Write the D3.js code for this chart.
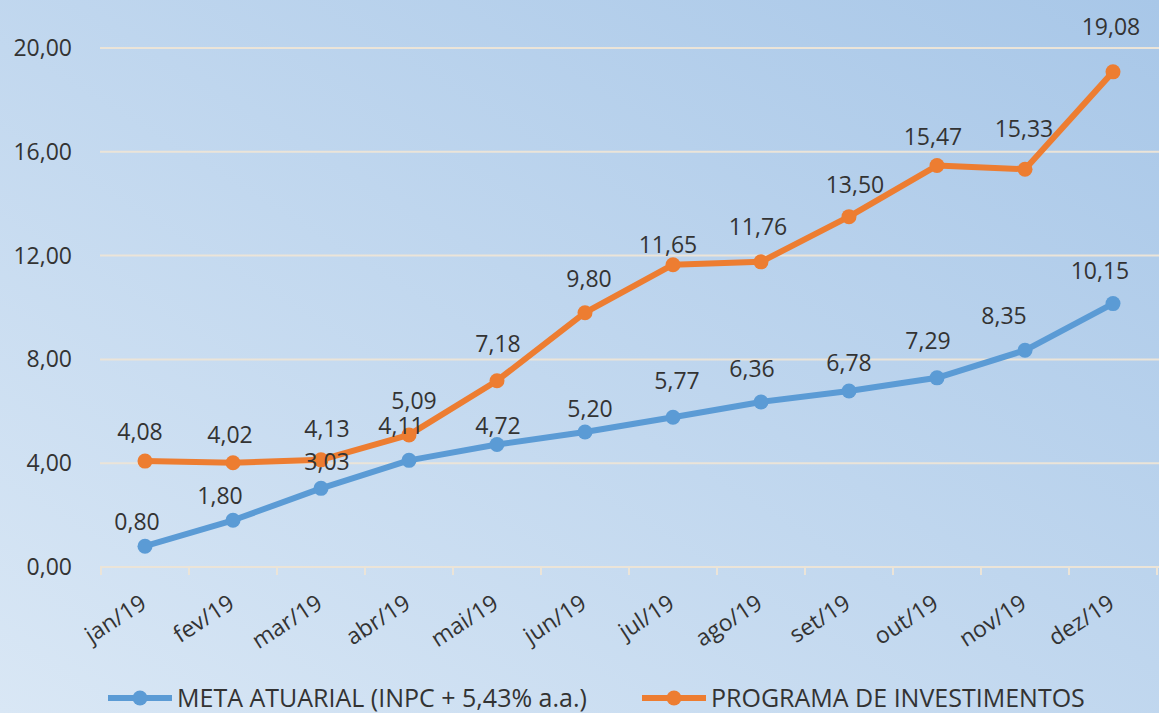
<!DOCTYPE html>
<html>
<head>
<meta charset="utf-8">
<script src="https://cdn.jsdelivr.net/npm/d3@7"></script>
<style>
  body { margin: 0; overflow: hidden; }
  text { font-family: "Open Sans", sans-serif; fill: #333333; }
</style>
</head>
<body>
<div id="chart"></div>
<script>
// data
var months = ["jan/19", "fev/19", "mar/19", "abr/19", "mai/19", "jun/19",
              "jul/19", "ago/19", "set/19", "out/19", "nov/19", "dez/19"];
var meta = [0.80, 1.80, 3.03, 4.11, 4.72, 5.20, 5.77, 6.36, 6.78, 7.29, 8.35, 10.15];
var programa = [4.08, 4.02, 4.13, 5.09, 7.18, 9.80, 11.65, 11.76, 13.50, 15.47, 15.33, 19.08];
var yTicks = [0, 4, 8, 12, 16, 20];
var seriesNames = ["META ATUARIAL (INPC + 5,43% a.a.)", "PROGRAMA DE INVESTIMENTOS"];

var width = 1159, height = 713;
var blue = "#5b9bd5", orange = "#ed7d31";
var fmt = function(v) { return d3.format(".2f")(v).replace(".", ","); };

// label nudges (dx, distance above the point), as placed in the original
var metaNudge = [[-8, 25], [-13, 25], [6, 27], [-8, 35], [1, 19], [5, 23],
                 [4, 37], [-9, 33], [0, 28], [-9, 37], [-21, 35], [-13, 33]];
var progNudge = [[-5, 29], [-3, 28], [6, 31], [5, 34], [1, 37], [4, 34],
                 [-5, 20], [-3, 35], [6, 32], [-4, 29], [-1, 40], [-2, 45]];

var svg = d3.select("#chart")
  .append("svg")
    .attr("width", width)
    .attr("height", height);

// background gradient
var grad = svg.append("defs").append("linearGradient")
    .attr("id", "bg")
    .attr("x1", "0%").attr("y1", "100%")
    .attr("x2", "100%").attr("y2", "0%");
grad.append("stop").attr("offset", "0%").attr("stop-color", "#d9e7f5");
grad.append("stop").attr("offset", "100%").attr("stop-color", "#a8c7e8");
svg.append("rect")
  .attr("width", width)
  .attr("height", height)
  .attr("fill", "url(#bg)");

var x = d3.scaleBand()
  .domain(months)
  .range([101, 1157]);

var y = d3.scaleLinear()
  .domain([0, 20])
  .range([567, 48]);

var cx = function(i) { return x(months[i]) + x.bandwidth() / 2; };

// grid lines
svg.append("g")
  .selectAll("line")
  .data(yTicks.slice(1))
  .enter()
  .append("line")
    .attr("x1", 100)
    .attr("x2", width)
    .attr("y1", function(d) { return y(d); })
    .attr("y2", function(d) { return y(d); })
    .attr("stroke", "#ebe4d8")
    .attr("stroke-width", 2);

// Y axis labels
svg.append("g")
  .selectAll("text")
  .data(yTicks)
  .enter()
  .append("text")
    .attr("x", 72)
    .attr("y", function(d) { return y(d); })
    .attr("dy", "0.35em")
    .attr("text-anchor", "end")
    .style("font-size", "23px")
    .text(fmt);

// X axis line and ticks
var xAxis = svg.append("g")
  .attr("transform", "translate(0," + y(0) + ")");
xAxis.append("line")
  .attr("x1", 100).attr("x2", width)
  .attr("stroke", "#ebe4d8").attr("stroke-width", 2);
xAxis.selectAll(".tk")
  .data(months.concat(["end"]))
  .enter()
  .append("line")
    .attr("class", "tk")
    .attr("x1", function(d, i) { return 101 + i * x.step(); })
    .attr("x2", function(d, i) { return 101 + i * x.step(); })
    .attr("y1", 0).attr("y2", 8)
    .attr("stroke", "#ebe4d8").attr("stroke-width", 2);

svg.append("g")
  .selectAll("text")
  .data(months)
  .enter()
  .append("text")
    .attr("transform", function(d, i) {
      return "translate(" + (cx(i) + 3) + ",607) rotate(-33)";
    })
    .attr("text-anchor", "end")
    .style("font-size", "23px")
    .text(function(d) { return d; });

// lines, markers and value labels
var line = d3.line()
  .x(function(d, i) { return cx(i); })
  .y(function(d) { return y(d); });

function drawSeries(values, color) {
  var g = svg.append("g");
  g.append("path")
    .datum(values)
    .attr("fill", "none")
    .attr("stroke", color)
    .attr("stroke-width", 6)
    .attr("stroke-linejoin", "round")
    .attr("d", line);
  g.selectAll("circle")
    .data(values)
    .enter()
    .append("circle")
      .attr("cx", function(d, i) { return cx(i); })
      .attr("cy", function(d) { return y(d); })
      .attr("r", 7.5)
      .attr("fill", color);
}
drawSeries(meta, blue);
drawSeries(programa, orange);

function drawLabels(values, nudge) {
  svg.append("g")
    .selectAll("text")
    .data(values)
    .enter()
    .append("text")
      .attr("x", function(d, i) { return cx(i) + nudge[i][0]; })
      .attr("y", function(d, i) { return y(d) - nudge[i][1]; })
      .attr("dy", "0.36em")
      .attr("text-anchor", "middle")
      .style("font-size", "23px")
      .text(fmt);
}
drawLabels(meta, metaNudge);
drawLabels(programa, progNudge);

// legend
var legend = svg.append("g");
var legendX = [108, 642];
[blue, orange].forEach(function(c, i) {
  var lg = legend.append("g").attr("transform", "translate(" + legendX[i] + ",698)");
  lg.append("line")
    .attr("x1", 0).attr("x2", 64)
    .attr("stroke", c).attr("stroke-width", 6);
  lg.append("circle")
    .attr("cx", 32).attr("r", 7.5).attr("fill", c);
  lg.append("text")
    .attr("x", 69)
    .attr("dy", "0.36em")
    .style("font-size", "25px")
    .text(seriesNames[i]);
});
</script>
</body>
</html>
